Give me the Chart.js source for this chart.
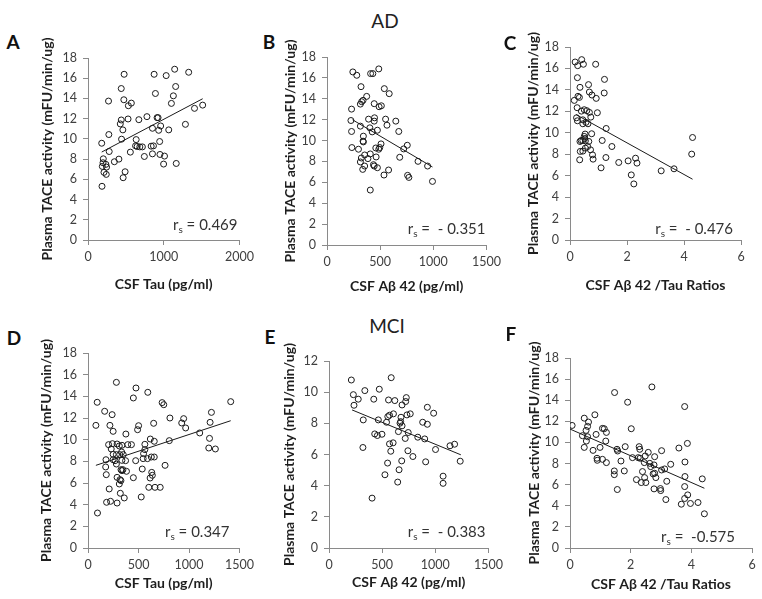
<!DOCTYPE html>
<html>
<head>
<meta charset="utf-8">
<script src="https://cdn.jsdelivr.net/npm/chart.js@4.4.1/dist/chart.umd.min.js"></script>
<style>
  html, body { margin:0; padding:0; background:#fff; width:762px; height:599px; overflow:hidden; }
  #root { position:relative; width:762px; height:599px; }
  canvas { position:absolute; }
  .lbl { position:absolute; transform:translate(-50%,-50%); font-family:Lato, "Open Sans", sans-serif; color:#111; white-space:nowrap; line-height:1; }
  .letter { font-weight:bold; font-size:19px; }
  .group { font-size:19px; color:#222; }
</style>
</head>
<body>
<div id="root"></div>
<script>
// ---------------- DATA ----------------
// Panel A: AD, CSF Tau vs plasma TACE
const adTauX = [477,873,1032,1144,1329,439,1157,473,572,533,271,890,1127,1101,1514,1406,439,529,671,778,912,925,426,460,275,851,933,959,1066,1286,181,443,636,946,628,684,718,649,834,864,280,559,851,950,1010,744,202,408,348,198,236,998,1165,189,245,211,241,490,464,185];
const adTauY = [16.39,16.39,16.26,16.89,16.59,14.98,15.18,13.87,13.54,13.28,13.74,14.49,14.26,13.51,13.34,13.02,11.87,11.97,11.9,12.2,12.1,12.1,11.48,10.89,10.43,11.05,10.85,11.28,10.89,11.44,9.57,9.97,9.93,9.74,9.31,9.21,9.21,9.25,9.28,9.31,8.75,8.69,8.52,8.46,8.3,8.26,8.03,8.0,7.74,7.64,7.48,7.51,7.57,7.28,7.21,6.69,6.49,6.75,6.16,5.31];
const adTauFitX = [181,1514];
const adTauFitY = [8.7,13.97];

// Panel B: AD, CSF Abeta42 vs plasma TACE
const adAbX = [243,280,410,431,487,320,539,585,373,314,326,339,444,490,511,231,225,391,447,444,551,647,564,314,403,425,474,231,675,342,339,342,508,755,721,234,296,459,487,496,462,684,354,323,407,385,314,856,946,354,336,437,444,474,579,536,758,770,407,992];
const adAbY = [16.57,16.25,16.41,16.41,16.86,15.16,14.97,14.49,14.23,13.49,13.72,13.85,13.53,13.24,13.33,13.01,11.92,12.05,12.18,11.86,12.05,11.86,11.47,11.38,11.22,10.83,10.99,10.87,10.87,10.42,9.94,9.87,9.68,9.55,9.2,9.33,9.17,9.29,9.17,9.33,8.43,8.4,8.62,8.33,8.72,8.27,7.95,8.01,7.56,7.56,7.24,7.69,7.56,7.4,7.18,6.7,6.67,6.47,5.26,6.09];
const adAbFitX = [240,992];
const adAbFitY = [11.99,7.47];

// Panel C: AD, CSF Abeta42/Tau ratio vs plasma TACE
const adRatioX = [0.18,0.27,0.41,0.47,0.9,0.26,1.21,0.65,0.35,0.68,1.2,0.77,0.28,0.33,0.92,0.15,0.25,0.4,0.5,0.59,0.68,0.96,0.23,0.26,0.45,0.45,0.56,0.63,0.73,1.27,0.53,0.76,0.5,0.52,0.39,0.45,0.35,0.54,0.66,1.13,1.47,0.54,0.62,0.72,0.36,0.45,0.79,4.27,4.3,0.81,1.26,0.34,1.09,1.71,2.04,2.3,2.35,2.15,2.24,3.2,3.65];
const adRatioY = [16.6,16.26,16.82,16.39,16.39,15.14,14.98,14.49,14.24,13.8,13.71,13.52,13.4,13.3,13.21,13.02,12.34,12.02,12.15,12.06,11.9,11.87,11.4,11.12,11.21,10.84,10.97,10.84,11.46,10.4,9.88,9.91,9.66,9.47,9.28,9.28,9.19,9.25,9.19,9.28,8.72,8.57,8.72,8.41,8.26,8.29,7.94,8.01,9.56,7.54,7.69,7.48,6.73,7.23,7.38,7.63,7.17,6.07,5.23,6.45,6.64];
const adRatioFitX = [0.21,4.3];
const adRatioFitY = [11.7,5.67];

// Panel D: MCI, CSF Tau vs plasma TACE
const mciTauX = [281,475,449,592,91,734,750,1413,165,239,1222,811,947,78,217,501,491,650,928,967,1209,249,1106,1203,375,204,242,288,310,336,394,430,563,617,656,805,1196,1261,230,178,175,249,281,314,249,333,349,268,336,372,281,327,336,346,381,288,317,326,310,181,210,472,449,537,546,589,627,656,615,631,637,763,563,550,602,663,715,527,320,359,184,223,288,94];
const mciTauY = [15.29,14.77,13.85,14.37,13.45,13.42,13.23,13.51,12.62,12.31,12.52,12.0,11.94,11.32,11.32,11.29,10.92,11.51,11.54,11.08,11.6,10.77,10.62,10.12,10.52,9.54,9.63,9.6,9.42,9.48,9.54,9.54,9.57,10.06,9.85,9.91,9.23,9.14,9.14,8.15,7.48,8.65,8.62,8.62,8.15,8.86,8.62,8.06,8.09,8.06,7.75,7.23,7.14,7.23,7.08,6.52,6.31,6.22,5.91,6.77,5.45,8.06,6.49,7.29,8.25,8.25,8.4,8.4,6.46,6.98,6.71,7.63,9.08,8.71,5.6,5.6,5.6,4.71,5.05,4.62,4.22,4.31,4.15,3.23];
const mciTauFitX = [78,1413];
const mciTauFitY = [7.63,11.75];

// Panel E: MCI, CSF Abeta42 vs plasma TACE
const mciAbX = [210,585,229,275,235,337,473,421,560,619,727,721,687,925,984,322,464,541,553,569,606,677,733,764,674,668,687,653,745,881,925,430,455,498,717,835,900,319,569,603,742,789,1002,1138,1181,581,551,684,909,1234,659,526,646,1073,1073,405];
const mciAbY = [10.78,10.93,9.84,9.55,9.16,10.1,10.19,9.55,9.5,9.46,9.65,9.4,9.18,9.03,8.65,8.22,8.22,8.07,8.43,8.52,8.61,8.39,8.54,8.61,8.11,8.01,7.84,7.47,7.41,8.07,7.94,7.32,7.22,7.3,7.03,7.11,7.0,6.45,6.68,6.75,6.24,5.87,6.32,6.56,6.66,6.21,5.45,5.59,5.53,5.57,5.02,4.7,4.23,4.61,4.15,3.2];
const mciAbFitX = [217,1240];
const mciAbFitY = [8.86,5.98];

// Panel F: MCI, CSF Abeta42/Tau ratio vs plasma TACE
const mciRatioX = [2.7,1.47,1.9,3.78,0.82,0.47,0.61,0.07,1.07,1.13,2.02,0.58,0.53,1.2,0.41,0.58,0.86,0.54,1.18,0.47,0.76,0.99,1.82,1.55,1.57,2.28,2.3,3.02,3.59,3.87,0.89,0.9,1.07,1.2,1.68,2.06,2.25,2.31,2.48,2.79,2.58,2.45,2.39,2.63,2.66,2.77,3.32,3.79,3.12,3.02,1.46,1.46,1.79,2.79,2.74,2.83,2.46,2.5,2.35,2.19,3.19,3.79,4.36,1.56,2.77,2.98,2.99,3.78,3.16,3.88,3.78,3.67,3.97,4.22,4.43];
const mciRatioY = [15.26,14.73,13.81,13.4,12.62,12.3,11.93,11.61,11.33,11.3,11.3,11.52,11.14,10.95,10.64,10.54,10.76,10.13,10.13,9.53,9.25,9.53,9.6,9.35,9.19,9.6,9.35,9.22,9.47,9.91,8.5,8.31,8.4,8.09,8.24,8.56,8.56,8.5,8.72,8.65,9.06,8.09,7.24,8.02,7.71,7.87,7.93,8.15,7.49,7.39,7.3,6.95,7.3,7.08,7.02,6.67,6.67,6.2,6.2,6.48,6.32,6.77,6.55,5.54,5.6,5.63,5.44,5.82,4.59,5.03,4.69,4.15,4.22,4.31,3.24];
const mciRatioFitX = [0,4.43];
const mciRatioFitY = [11.27,5.66];

// Texts and axis ranges
const panelLetters = ['A','B','C','D','E','F'];
const groupTitles = ['AD','MCI'];
const yAxisTitle = 'Plasma TACE activity (mFU/min/ug)';
const xAxisTitles = ['CSF Tau (pg/ml)','CSF Aβ 42 (pg/ml)','CSF Aβ 42 /Tau Ratios','CSF Tau (pg/ml)','CSF Aβ 42 (pg/ml)','CSF Aβ 42 /Tau Ratios'];
const rsValues = ['0.469','- 0.351','- 0.476','0.347','- 0.383','-0.575'];
const rsSeparators = [' = ',' =  ',' =  ',' = ',' =  ',' =  '];
const xMax = [2000,1500,6,1500,1500,6];
const xStep = [1000,500,2,500,500,2];
const yMax = [18,18,18,18,12,18];
const yStep = [2,2,2,2,2,2];

const seriesX = [adTauX, adAbX, adRatioX, mciTauX, mciAbX, mciRatioX];
const seriesY = [adTauY, adAbY, adRatioY, mciTauY, mciAbY, mciRatioY];
const fitX = [adTauFitX, adAbFitX, adRatioFitX, mciTauFitX, mciAbFitX, mciRatioFitX];
const fitY = [adTauFitY, adAbFitY, adRatioFitY, mciTauFitY, mciAbFitY, mciRatioFitY];

// ---------------- LAYOUT (pixels) ----------------
const layout = [
  {l:88,  r:242, t:58,  b:240, yTitleX:47,  xTitleY:285, padR:16, rsDx:2,  rsDy:10, letter:[13,41]},
  {l:327, r:489, t:57,  b:245, yTitleX:290, xTitleY:287, padR:16, rsDx:1,  rsDy:11, letter:[269,41]},
  {l:570, r:741, t:47,  b:240, yTitleX:533, xTitleY:286, padR:12, rsDx:8,  rsDy:6,  letter:[510,42]},
  {l:88,  r:242, t:353, b:548, yTitleX:46,  xTitleY:584, padR:16, rsDx:10, rsDy:11, letter:[14,337]},
  {l:329, r:491, t:361, b:548, yTitleX:289, xTitleY:583, padR:16, rsDx:3,  rsDy:11, letter:[270,336]},
  {l:570, r:752, t:358, b:548, yTitleX:534, xTitleY:585, padR:9,  rsDx:17, rsDy:6,  letter:[511,333]}
];
const groupPos = [[385,20],[387,325]];

const FONT = 'Lato, "Open Sans", sans-serif';
const AXIS_COLOR = '#8a8a8a';
const TICK_COLOR = '#404040';
const TITLE_COLOR = '#1e1e1e';
const Y_TITLE_SIZE = 14;
const X_TITLE_SIZE = 14;
const TITLE_LH = 1.2;
const PAD_TOP = 26;

Chart.defaults.font.family = FONT;
Chart.defaults.animation = false;

const rsPlugin = {
  id: 'rsLabel',
  afterDatasetsDraw(chart, args, opts) {
    const {ctx, chartArea} = chart;
    ctx.save();
    ctx.fillStyle = '#333';
    ctx.textBaseline = 'alphabetic';
    ctx.textAlign = 'left';
    const big = '15px ' + FONT, small = '10px ' + FONT;
    ctx.font = big;
    const wR = ctx.measureText('r').width;
    const wRest = ctx.measureText(opts.text).width;
    ctx.font = small;
    const wS = ctx.measureText('s').width;
    let x = chartArea.right - opts.dx - (wR + wS + wRest);
    const y = chartArea.bottom - opts.dy;
    ctx.font = big; ctx.fillText('r', x, y); x += wR;
    ctx.font = small; ctx.fillText('s', x, y + 3); x += wS;
    ctx.font = big; ctx.fillText(opts.text, x, y);
    ctx.restore();
  }
};

const root = document.getElementById('root');

function addLabel(text, cls, x, y) {
  const d = document.createElement('div');
  d.className = 'lbl ' + cls;
  d.textContent = text;
  d.style.left = x + 'px';
  d.style.top = y + 'px';
  root.appendChild(d);
}

groupTitles.forEach((t, i) => addLabel(t, 'group', groupPos[i][0], groupPos[i][1]));

const plainTick = (v) => String(v);

layout.forEach((L, i) => {
  addLabel(panelLetters[i], 'letter', L.letter[0], L.letter[1]);
  const lhY = Y_TITLE_SIZE * TITLE_LH;
  const lhX = X_TITLE_SIZE * TITLE_LH;
  const cLeft = Math.round(L.yTitleX - lhY / 2);
  const cTop = L.t - PAD_TOP;
  const cBottom = Math.round(L.xTitleY + lhX / 2);
  const cWidth = L.r + L.padR - cLeft;
  const cHeight = cBottom - cTop;
  const yAxisW = L.l - cLeft;
  const xAxisH = cBottom - L.b;

  const cv = document.createElement('canvas');
  cv.width = cWidth; cv.height = cHeight;
  cv.style.left = cLeft + 'px'; cv.style.top = cTop + 'px';
  cv.style.width = cWidth + 'px'; cv.style.height = cHeight + 'px';
  root.appendChild(cv);

  const pts = seriesX[i].map((x, k) => ({x: x, y: seriesY[i][k]}));
  const fit = fitX[i].map((x, k) => ({x: x, y: fitY[i][k]}));

  new Chart(cv.getContext('2d'), {
    type: 'scatter',
    data: {
      datasets: [
        {
          data: pts,
          pointRadius: 3,
          pointBorderWidth: 1,
          pointBorderColor: '#1a1a1a',
          pointBackgroundColor: 'rgba(255,255,255,0)',
          showLine: false,
          order: 2
        },
        {
          data: fit,
          showLine: true,
          pointRadius: 0,
          borderColor: '#1a1a1a',
          borderWidth: 1,
          order: 1
        }
      ]
    },
    options: {
      responsive: false,
      devicePixelRatio: 1,
      animation: false,
      events: [],
      layout: { padding: { top: PAD_TOP, right: L.padR, left: 0, bottom: 0 } },
      plugins: {
        legend: { display: false },
        tooltip: { enabled: false },
        rsLabel: { text: rsSeparators[i] + rsValues[i], dx: L.rsDx, dy: L.rsDy }
      },
      scales: {
        x: {
          type: 'linear',
          min: 0, max: xMax[i],
          afterFit: (s) => { s.height = xAxisH; },
          ticks: { stepSize: xStep[i], color: TICK_COLOR, font: { size: 12.5 }, padding: 4, maxRotation: 0, callback: plainTick },
          grid: { display: true, drawOnChartArea: false, drawTicks: true, tickLength: 5, color: AXIS_COLOR },
          border: { display: true, color: AXIS_COLOR, width: 1 },
          title: { display: true, text: xAxisTitles[i], color: TITLE_COLOR, font: { size: X_TITLE_SIZE, weight: 'bold', lineHeight: TITLE_LH }, padding: 0 }
        },
        y: {
          type: 'linear',
          min: 0, max: yMax[i],
          afterFit: (s) => { s.width = yAxisW; },
          ticks: { stepSize: yStep[i], color: TICK_COLOR, font: { size: 12.5 }, padding: 6, callback: plainTick },
          grid: { display: true, drawOnChartArea: false, drawTicks: true, tickLength: 5, color: AXIS_COLOR },
          border: { display: true, color: AXIS_COLOR, width: 1 },
          title: { display: true, text: yAxisTitle, color: TITLE_COLOR, font: { size: Y_TITLE_SIZE, weight: 'bold', lineHeight: TITLE_LH }, padding: 0 }
        }
      }
    },
    plugins: [rsPlugin]
  });
});
</script>
</body>
</html>
